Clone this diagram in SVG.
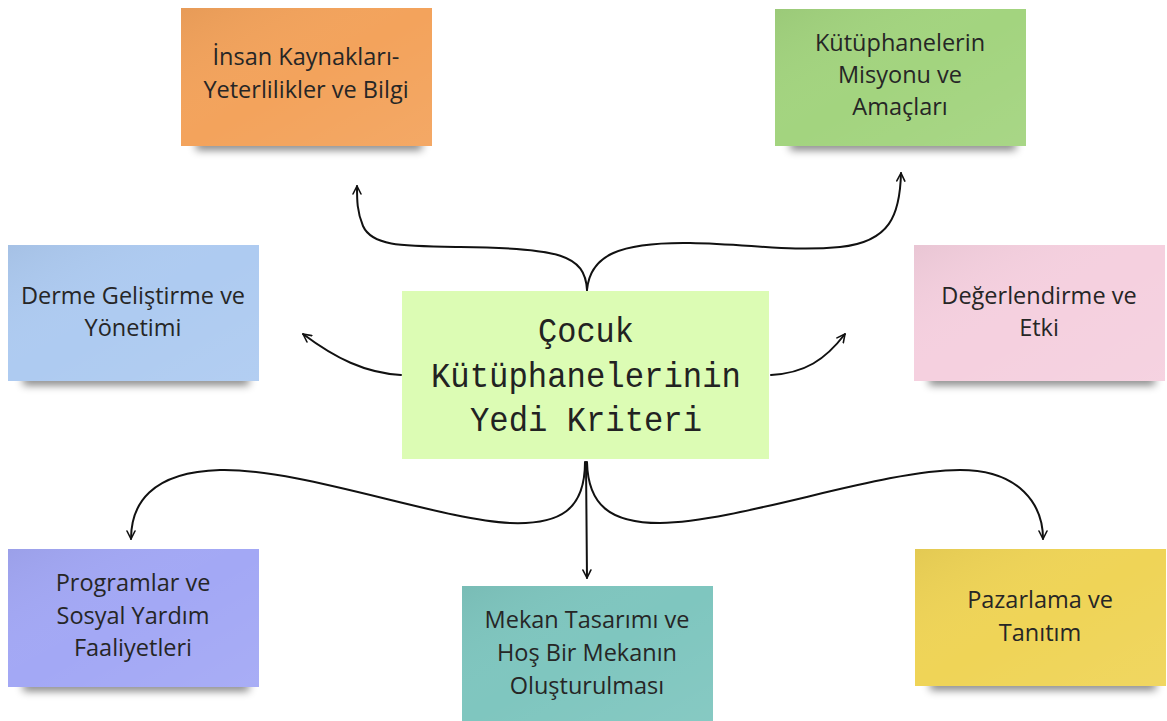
<svg xmlns="http://www.w3.org/2000/svg" width="1167" height="721" viewBox="0 0 1167 721">
<style>
.note text{font-family:"Open Sans","Noto Sans",sans-serif;font-size:23.5px;fill:#262626;text-anchor:middle}
.center text{font-family:"Liberation Mono","DejaVu Sans Mono",monospace;font-size:35px;fill:#222;text-anchor:middle}
.con path{fill:none;stroke:#111;stroke-width:2;stroke-linecap:round}
.shadow{fill:#000;opacity:0.5;filter:url(#blur)}
</style>
<defs>
<filter id="blur" x="-20%" y="-100%" width="140%" height="300%"><feGaussianBlur stdDeviation="4"/></filter>
<linearGradient id="sheen" x1="0" y1="0" x2="1" y2="1">
<stop offset="0" stop-color="#000" stop-opacity="0.05"/>
<stop offset="0.5" stop-color="#fff" stop-opacity="0"/>
<stop offset="1" stop-color="#fff" stop-opacity="0.06"/>
</linearGradient>
<marker id="arr" viewBox="0 0 10 10" refX="9" refY="5" markerWidth="5" markerHeight="5" orient="auto" markerUnits="strokeWidth">
<path d="M1,1 L9,5 L1,9" fill="none" stroke="#111" stroke-width="1.6" stroke-linecap="round" stroke-linejoin="round"/>
</marker>
</defs>
<rect width="1167" height="721" fill="#fff"/>

<g class="con">
<path d="M587,290 C585,255 560,248 460,247 C400,246 372,246 363,226 C357,212 357,200 357,186" marker-end="url(#arr)"/>
<path d="M587,290 C590,255 620,242 690,243 C750,244 790,252 840,247 C890,242 900,215 901,173" marker-end="url(#arr)"/>
<path d="M401,375 C365,373 335,358 303,334" marker-end="url(#arr)"/>
<path d="M771,375 C805,373 825,360 845,334" marker-end="url(#arr)"/>
<path d="M585,462 C585,510 560,525 510,523 C440,520 300,468 220,470 C150,472 131,505 131,539" marker-end="url(#arr)"/>
<path d="M587,462 C588,505 610,523 660,523 C740,522 880,470 960,470 C1020,470 1043,505 1043,539" marker-end="url(#arr)"/>
<path d="M586,462 L587,578" marker-end="url(#arr)"/>
</g>

<g id="n-insan" class="note">
<rect class="shadow" x="196" y="140" width="226" height="10"/>
<rect x="181" y="8" width="251" height="138" fill="#f3a35c"/>
<rect x="181" y="8" width="251" height="138" fill="url(#sheen)"/>
<text x="306" y="65">İnsan Kaynakları-</text>
<text x="306" y="98">Yeterlilikler ve Bilgi</text>
</g>

<g id="n-misyon" class="note">
<rect class="shadow" x="790" y="140" width="226" height="10"/>
<rect x="775" y="9" width="251" height="137" fill="#a3d47f"/>
<rect x="775" y="9" width="251" height="137" fill="url(#sheen)"/>
<text x="900" y="51">Kütüphanelerin</text>
<text x="900" y="83">Misyonu ve</text>
<text x="900" y="115">Amaçları</text>
</g>

<g id="n-derme" class="note">
<rect class="shadow" x="23" y="375" width="226" height="10"/>
<rect x="8" y="245" width="251" height="136" fill="#aecbf1"/>
<rect x="8" y="245" width="251" height="136" fill="url(#sheen)"/>
<text x="133" y="304">Derme Geliştirme ve</text>
<text x="133" y="336">Yönetimi</text>
</g>

<g id="n-deger" class="note">
<rect class="shadow" x="929" y="375" width="226" height="10"/>
<rect x="914" y="245" width="251" height="136" fill="#f5d0df"/>
<rect x="914" y="245" width="251" height="136" fill="url(#sheen)"/>
<text x="1039" y="304">Değerlendirme ve</text>
<text x="1039" y="336">Etki</text>
</g>

<g id="n-center" class="center">
<rect x="402" y="291" width="367" height="168" fill="#dcfcb4"/>
<text x="586" y="342" textLength="96" lengthAdjust="spacingAndGlyphs">Çocuk</text>
<text x="586" y="387" textLength="310" lengthAdjust="spacingAndGlyphs">Kütüphanelerinin</text>
<text x="586" y="431" textLength="232" lengthAdjust="spacingAndGlyphs">Yedi Kriteri</text>
</g>

<g id="n-program" class="note">
<rect class="shadow" x="23" y="681" width="226" height="10"/>
<rect x="8" y="549" width="251" height="138" fill="#a3a8f5"/>
<rect x="8" y="549" width="251" height="138" fill="url(#sheen)"/>
<text x="133" y="591">Programlar ve</text>
<text x="133" y="624">Sosyal Yardım</text>
<text x="133" y="656">Faaliyetleri</text>
</g>

<g id="n-mekan" class="note">
<rect x="462" y="586" width="251" height="135" fill="#7fc6bf"/>
<rect x="462" y="586" width="251" height="135" fill="url(#sheen)"/>
<text x="587" y="628">Mekan Tasarımı ve</text>
<text x="587" y="661">Hoş Bir Mekanın</text>
<text x="587" y="694">Oluşturulması</text>
</g>

<g id="n-pazar" class="note">
<rect class="shadow" x="930" y="680" width="226" height="10"/>
<rect x="915" y="549" width="251" height="137" fill="#efd457"/>
<rect x="915" y="549" width="251" height="137" fill="url(#sheen)"/>
<text x="1040" y="608">Pazarlama ve</text>
<text x="1040" y="641">Tanıtım</text>
</g>
</svg>
